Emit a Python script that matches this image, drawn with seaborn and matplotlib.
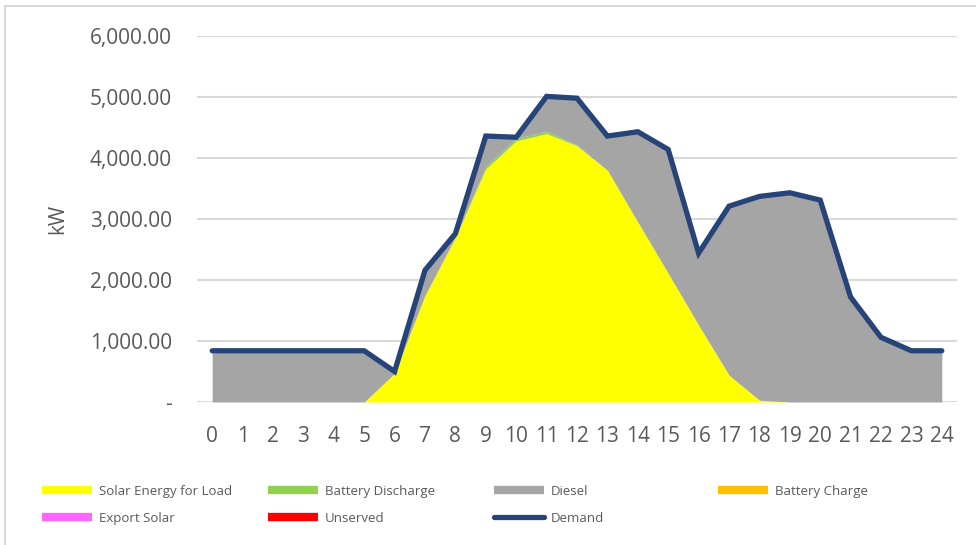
"""
Hourly energy dispatch chart - solar, battery, diesel vs demand.
"""

#Libraries
import numpy as np
import matplotlib.pyplot as plt
import seaborn as sns
from matplotlib.lines import Line2D
from matplotlib.ticker import FuncFormatter

#Data (kW per hour)
hours = list(range(25))
demand = [840, 840, 840, 840, 840, 840, 500, 2160, 2760, 4360, 4340, 5010, 4980,
          4360, 4430, 4140, 2440, 3210, 3370, 3430, 3310, 1720, 1060, 840, 840]
solar_load = [0, 0, 0, 0, 0, 0, 470, 1750, 2700, 3820, 4280, 4400, 4200,
              3800, 2950, 2110, 1260, 440, 30, 0, 0, 0, 0, 0, 0]
battery_discharge = [0, 0, 0, 0, 0, 0, 0, 0, 0, 40, 40, 40, 10,
                     0, 0, 0, 0, 0, 0, 0, 0, 0, 0, 0, 0]
battery_charge = [0, 0, 0, 0, 0, 0, 0, 0, 60, 0, 0, 0, 0,
                  0, 0, 0, 0, 0, 0, 0, 0, 0, 0, 0, 0]
export_solar = [0] * 25
unserved = [0] * 25
diesel = [max(d - s - b, 0) for d, s, b in zip(demand, solar_load, battery_discharge)]

labels = ['Solar Energy for Load', 'Battery Discharge', 'Diesel', 'Battery Charge',
          'Export Solar', 'Unserved', 'Demand']
colors = ['#ffff00', '#92d050', '#a5a5a5', '#ffc000', '#ff66ff', '#ff0000', '#264478']

#Style
sns.set_theme(style='white')
plt.rcParams['font.family'] = ['Open Sans', 'DejaVu Sans']

fig = plt.figure(figsize=(9.76, 5.45), dpi=100)
ax = fig.add_axes([197 / 976, 1 - 402 / 545, 760 / 976, 366 / 545])

#Stacked areas
ax.stackplot(hours, solar_load, battery_discharge, diesel, battery_charge, export_solar, unserved,
             colors=colors[:6], linewidth=0, zorder=2)

#Demand line
sns.lineplot(x=hours, y=demand, ax=ax, color=colors[6], linewidth=3.8,
             solid_capstyle='round', solid_joinstyle='miter', zorder=4)

#Axes
ax.set_xlim(-0.5, 24.5)
ax.set_ylim(0, 6000)
ax.set_yticks(np.arange(0, 6001, 1000))
ax.set_xticks(hours)
ax.yaxis.set_major_formatter(FuncFormatter(lambda v, p: '-' if v == 0 else f'{v:,.2f}'))
ax.grid(axis='y', color='#d9d9d9', linewidth=1.5, zorder=0)
ax.set_axisbelow(True)
for s in ax.spines.values():
    s.set_visible(False)
ax.tick_params(axis='both', length=0, labelsize=15, labelcolor='#595959')
ax.tick_params(axis='y', pad=18)
ax.tick_params(axis='x', pad=17)
ax.set_ylabel('kW', fontsize=15, color='#595959')
ax.yaxis.set_label_coords(-0.17, 0.5)

#Legend - one column per legend so the columns sit on an even grid like the original
handles = []
for lab, c in zip(labels, colors):
    if lab == 'Demand':
        handles.append(Line2D([], [], color=c, linewidth=3.8, solid_capstyle='round'))
    else:
        handles.append(Line2D([], [], color=c, linewidth=6, solid_capstyle='butt'))

col_x = [42, 268, 494, 718]
columns = [[0, 4], [1, 5], [2, 6], [3]]
for x0, idx in zip(col_x, columns):
    leg = fig.legend([handles[i] for i in idx], [labels[i] for i in idx],
                     loc='upper left', bbox_to_anchor=(x0 / 976, 1 - 485 / 545),
                     frameon=False, fontsize=9.5, handlelength=3.8, handletextpad=0.5,
                     labelspacing=1.05, borderaxespad=0, borderpad=0)
    for t in leg.get_texts():
        t.set_color('#595959')

#Chart border (top and left edges)
fig.add_artist(Line2D([5 / 976, 1], [1 - 6 / 545, 1 - 6 / 545], color='#d9d9d9', linewidth=1.5))
fig.add_artist(Line2D([5 / 976, 5 / 976], [0, 1 - 6 / 545], color='#d9d9d9', linewidth=1.5))

fig.savefig('out.png', dpi=100)
